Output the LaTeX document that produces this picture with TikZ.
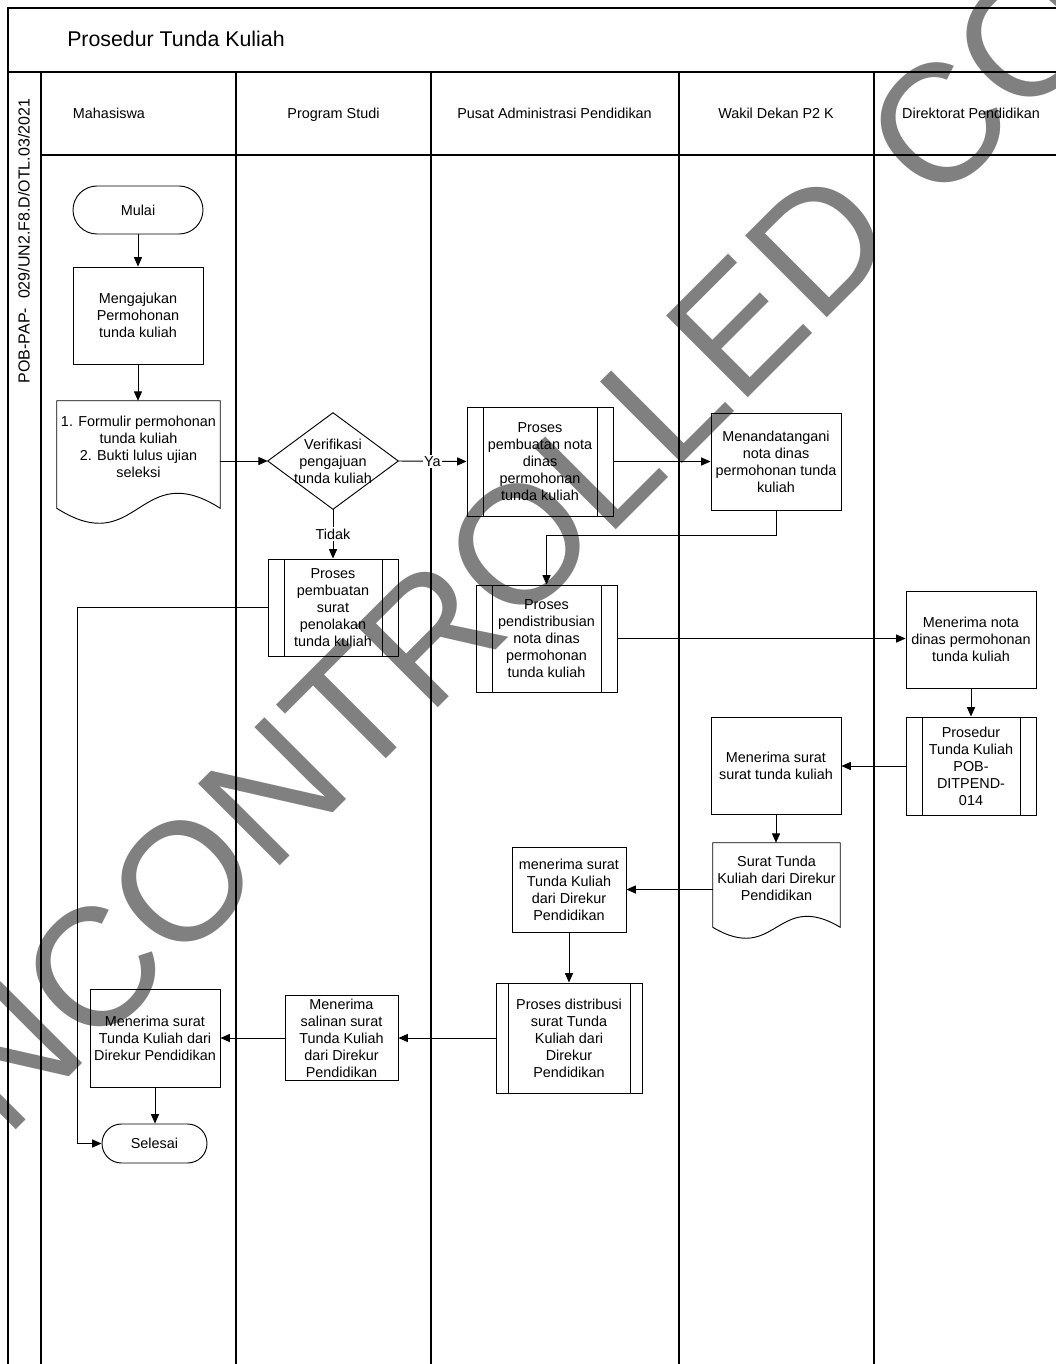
\documentclass[tikz,border=0pt]{standalone}
\usepackage{fontspec}
\setmainfont{Liberation Sans}
\usetikzlibrary{arrows.meta,calc}
\definecolor{wmgray}{HTML}{808080}
\begin{document}
\begin{tikzpicture}[x=0.75pt,y=-0.75pt,
  every node/.style={font=\fontsize{10.8pt}{12.75pt}\selectfont, align=center, inner sep=0pt},
  ln/.style={line width=0.7pt},
  lane/.style={line width=1pt},
  box/.style={draw, line width=0.7pt, minimum width=97.5pt, minimum height=72.75pt},
  term/.style={draw, line width=0.7pt},
  prebox/.style={box, path picture={
     \draw[line width=0.7pt] ([xshift=#1]path picture bounding box.north west) -- ([xshift=#1]path picture bounding box.south west)
       ([xshift=-#1]path picture bounding box.north east) -- ([xshift=-#1]path picture bounding box.south east);}},
  prebox/.default=12pt,
  arr/.style={ln, -{Triangle[length=7pt,width=6pt]}},
  lbl/.style={fill=white, inner sep=1pt},
  hdr/.style={anchor=base}]
\useasboundingbox (0,0) rectangle (1056,1364);

% watermark
\begin{scope}
\clip (0,0) rectangle (1056,1364);
\node[rotate=45, text=wmgray, font=\fontsize{126pt}{126pt}\selectfont] (wm) at (556,508) {UNCONTROLLED COPY};
\end{scope}

% frame and lanes
\draw[lane] (8,1364) -- (8,8) -- (1056,8);
\draw[line width=1.6pt] (8,72) -- (1056,72);
\draw[lane] (41,72) -- (41,1364);
\draw[lane] (236,72) -- (236,1364);
\draw[lane] (431,72) -- (431,1364);
\draw[lane] (679,72) -- (679,1364);
\draw[lane] (874,72) -- (874,1364);
\draw[lane] (41,155) -- (1056,155);

\node[anchor=west, font=\fontsize{16pt}{19pt}\selectfont] (title) at (67,39) {Prosedur Tunda Kuliah};
\node[rotate=90, font=\fontsize{12pt}{14pt}\selectfont] (code) at (24,241) {POB-PAP-\ \ 029/UN2.F8.D/OTL.03/2021};

\node[hdr] (h1) at (109,118) {Mahasiswa};
\node[hdr] (h2) at (333.5,118) {Program Studi};
\node[hdr] (h3) at (554.5,118) {Pusat Administrasi Pendidikan};
\node[hdr] (h4) at (776,118) {Wakil Dekan P2 K};
\node[hdr] (h5) at (971,118) {Direktorat Pendidikan};

% nodes
\node[term, minimum width=97.5pt, minimum height=36pt, rounded corners=18pt] (mulai) at (138,210) {Mulai};
\node[box] (ajukan) at (138,315.5) {Mengajukan\\Permohonan\\tunda kuliah};
\node[minimum width=122.25pt, minimum height=69pt] (doc1) at (138.5,447) {1. Formulir permohonan\\tunda kuliah\\2. Bukti lulus ujian\\seleksi};
\draw[ln] (doc1.north west) -- ($(doc1.south west)+(0,15)$) .. controls ($(doc1.south)+(0,67)$) and ($(doc1.south)+(0,-37)$) .. ($(doc1.south east)+(0,15)$) -- (doc1.north east) -- cycle;

\node[minimum width=97.5pt, minimum height=72pt] (dia) at (333,461) {Verifikasi\\pengajuan\\tunda kuliah};
\draw[ln] (dia.north) -- (dia.east) -- (dia.south) -- (dia.west) -- cycle;

\node[prebox, minimum width=109.5pt, minimum height=81.75pt] (p1) at (540,461.5) {Proses\\pembuatan nota\\dinas\\permohonan\\tunda kuliah};
\node[box] (ttd) at (776,461.5) {Menandatangani\\nota dinas\\permohonan tunda\\kuliah};
\node[prebox] (tolak) at (333,607.5) {Proses\\pembuatan\\surat\\penolakan\\tunda kuliah};
\node[prebox, minimum width=105.75pt, minimum height=80.25pt] (p2) at (546.5,638.5) {Proses\\pendistribusian\\nota dinas\\permohonan\\tunda kuliah};
\node[box] (tnota) at (971,639.5) {Menerima nota\\dinas permohonan\\tunda kuliah};
\node[prebox, minimum height=73.5pt] (prosedur) at (971,766) {Prosedur\\Tunda Kuliah\\POB-\\DITPEND-\\014};
\node[box] (tsurat) at (776,766) {Menerima surat\\surat tunda kuliah};
\node[minimum width=95.25pt, minimum height=53.25pt] (doc2) at (776.5,878.5) {Surat Tunda\\Kuliah dari Direkur\\Pendidikan};
\draw[ln] (doc2.north west) -- ($(doc2.south west)+(0,13)$) .. controls ($(doc2.south)+(0,51)$) and ($(doc2.south)+(0,-25)$) .. ($(doc2.south east)+(0,13)$) -- (doc2.north east) -- cycle;
\node[box, minimum width=85.5pt, minimum height=63.75pt] (recv) at (569,889.5) {menerima surat\\Tunda Kuliah\\dari Direkur\\Pendidikan};
\node[prebox=9pt, minimum width=109.5pt, minimum height=82.5pt] (pdist) at (569,1038) {Proses distribusi\\surat Tunda\\Kuliah dari\\Direkur\\Pendidikan};
\node[box, minimum width=84.75pt, minimum height=63.75pt] (salin) at (341.5,1038) {Menerima\\salinan surat\\Tunda Kuliah\\dari Direkur\\Pendidikan};
\node[box, minimum height=73.5pt] (takhir) at (155,1038) {Menerima surat\\Tunda Kuliah dari\\Direkur Pendidikan};
\node[term, minimum width=78.75pt, minimum height=29.25pt, rounded corners=14.6pt] (selesai) at (154.5,1143.5) {Selesai};

% connectors
\draw[arr] (mulai) -- (ajukan);
\draw[arr] (ajukan.south) -- (ajukan.south |- doc1.north);
\draw[arr] (doc1.east |- dia.west) -- (dia.west);
\draw[arr] (dia.east) -- node[lbl] (ya) {Ya} (p1.west);
\draw[arr] (dia.south) -- node[lbl] (tidak) {Tidak} (tolak.north);
\draw[arr] (p1.east) -- (ttd.west);
\draw[arr] (ttd.south) -- ++(0,25) -| (p2.north);
\draw[arr] (p2.east) -- (p2.east -| tnota.west);
\draw[arr] (tnota) -- (prosedur);
\draw[arr] (prosedur) -- (tsurat);
\draw[arr] (tsurat.south) -- (tsurat.south |- doc2.north);
\draw[arr] (doc2.west |- recv.east) -- (recv.east);
\draw[arr] (recv) -- (pdist);
\draw[arr] (pdist) -- (salin);
\draw[arr] (salin) -- (takhir);
\draw[arr] (takhir.south) -- (takhir.south |- selesai.north);
\draw[arr] (tolak.west) -- ++(-190,0) |- (selesai.west);
\end{tikzpicture}
\end{document}
